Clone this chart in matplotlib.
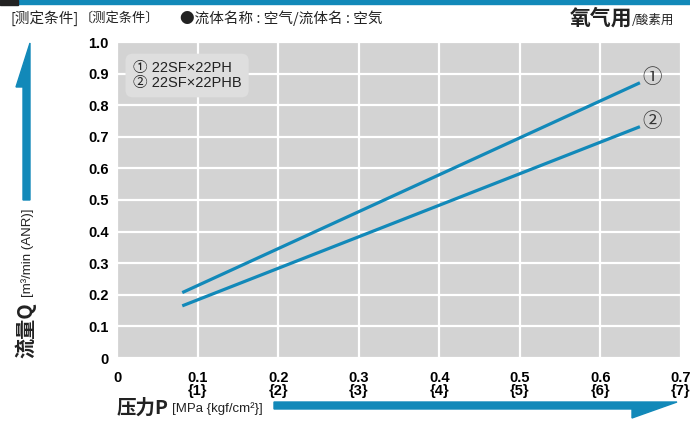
import matplotlib
matplotlib.use("Agg")
import matplotlib.pyplot as plt
from matplotlib.patches import Polygon, Rectangle
from matplotlib import font_manager

# data
pressure = [0.081, 0.649]          # MPa
flow_ph = [0.207, 0.871]           # 22SF x 22PH
flow_phb = [0.165, 0.732]          # 22SF x 22PHB
series_names = ["22SF×22PH", "22SF×22PHB"]
series_marks = ["①", "②"]
x_ticks = [0, 0.1, 0.2, 0.3, 0.4, 0.5, 0.6, 0.7]
x_labels = ["0", "0.1\n{1}", "0.2\n{2}", "0.3\n{3}", "0.4\n{4}", "0.5\n{5}", "0.6\n{6}", "0.7\n{7}"]
y_ticks = [0, 0.1, 0.2, 0.3, 0.4, 0.5, 0.6, 0.7, 0.8, 0.9, 1.0]
y_labels = ["0", "0.1", "0.2", "0.3", "0.4", "0.5", "0.6", "0.7", "0.8", "0.9", "1.0"]

names = {f.name for f in font_manager.fontManager.ttflist}
narrow = "Liberation Sans Narrow" if "Liberation Sans Narrow" in names else "Liberation Sans"
NUM = [narrow, "Noto Sans CJK SC", "DejaVu Sans"]
CJK = ["Noto Sans CJK SC", "DejaVu Sans"]
plt.rcParams["font.family"] = CJK

BLUE = "#1289b9"
W, H = 690, 421

fig = plt.figure(figsize=(6.9, 4.21), dpi=100)
ax = fig.add_axes([117 / W, 1 - 358 / H, (681 - 117) / W, (358 - 42) / H])
ax.set_facecolor("#d3d3d3")
ax.set_xlim(0, 0.7)
ax.set_ylim(0, 1.0)
ax.grid(True, color="white", lw=1.6)
ax.set_axisbelow(True)
for s in ax.spines.values():
    s.set_visible(False)
ax.tick_params(axis="x", length=0, pad=9)
ax.tick_params(axis="y", length=0, pad=6)
ax.set_xticks(x_ticks)
ax.set_xticklabels(x_labels, family=NUM, fontweight="bold", fontsize=10.5, linespacing=0.95)
ax.set_yticks(y_ticks)
ax.set_yticklabels(y_labels, family=NUM, fontweight="bold", fontsize=10.5)
ax.get_xticklabels()[0].set_va("top")

ax.plot(pressure, flow_ph, color=BLUE, lw=2.3, solid_capstyle="butt")
ax.plot(pressure, flow_phb, color=BLUE, lw=2.3, solid_capstyle="butt")
for mark, yv in zip(series_marks, [flow_ph[-1], flow_phb[-1]]):
    ax.annotate(mark, (pressure[-1], yv), xytext=(1.5, 4), textcoords="offset points",
                fontsize=14, color="#333333", va="center", ha="left", family=CJK)

ax.text(0.028, 0.94, "\n".join(m + " " + n for m, n in zip(series_marks, series_names)),
        transform=ax.transAxes, ha="left", va="top", fontsize=10.5, family=NUM,
        color="#222222", linespacing=1.1,
        bbox=dict(boxstyle="round,pad=0.5,rounding_size=0.5", fc="#dedede", ec="none"))


def px(x, y):
    return (x / W, 1 - y / H)


# top band
fig.patches.append(Rectangle(px(0, 4), 690 / W, 4 / H, transform=fig.transFigure,
                             color=BLUE, zorder=0))
fig.patches.append(Rectangle(px(0, 5), 18 / W, 5 / H, transform=fig.transFigure,
                             color="#222222", zorder=1))

# header texts
fig.text(*px(10, 18), "[测定条件]", fontsize=10.5, va="center", ha="left", color="#222222")
fig.text(*px(80, 18), "〔测定条件〕", fontsize=9.5, va="center", ha="left", color="#222222")
fig.text(*px(180, 18), "●流体名称 : 空气/流体名 : 空気", fontsize=10.5, va="center", ha="left",
         color="#222222")
fig.text(*px(632, 18), "氧气用", fontsize=15, fontweight="bold", va="center", ha="right",
         color="#222222")
fig.text(*px(632, 21), "/酸素用", fontsize=9, va="center", ha="left", color="#222222")

# y axis title and arrow
fig.text(*px(26, 358), "流量Q", fontsize=14.5, fontweight="bold", rotation=90,
         va="bottom", ha="center", color="#222222")
fig.text(*px(28, 297), "[m³/min (ANR)]", fontsize=9.5, rotation=90, va="bottom",
         ha="center", family=NUM, color="#222222")
fig.patches.append(Polygon([px(23, 200), px(30, 200), px(30, 43), px(16, 87), px(23, 87)],
                           closed=True, transform=fig.transFigure, color=BLUE))

# x axis title and arrow
fig.text(*px(117, 408), "压力P", fontsize=14, fontweight="bold", va="center", ha="left",
         color="#222222")
fig.text(*px(172, 409), "[MPa {kgf/cm²}]", fontsize=9.5, va="center", ha="left",
         family=NUM, color="#222222")
fig.patches.append(Polygon([px(274, 402), px(677, 402), px(632, 418), px(632, 409), px(274, 409)],
                           closed=True, transform=fig.transFigure, color=BLUE))

fig.savefig("out.png", dpi=100)
